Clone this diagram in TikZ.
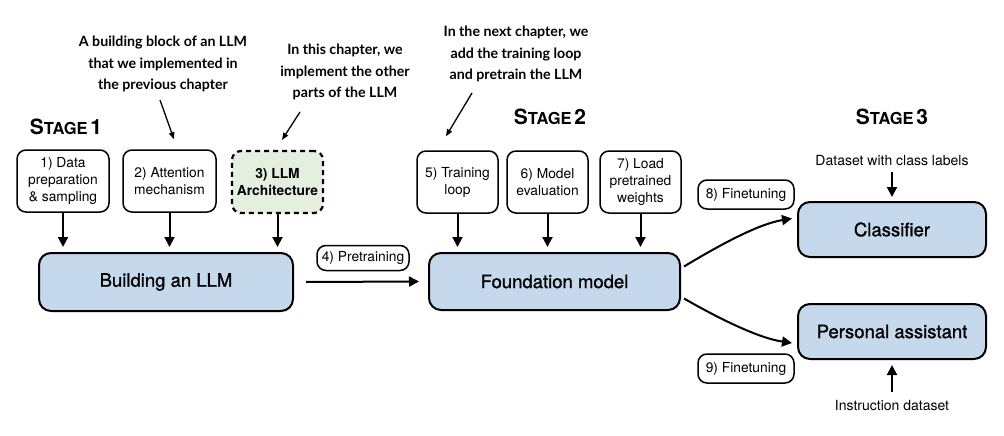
\documentclass[tikz,border=0pt]{standalone}
\usepackage{fontspec}
\setmainfont{TeX Gyre Heros}
\newfontfamily\medfont[FakeBold=1.2]{TeX Gyre Heros}
\newfontfamily\annfont{Lato}
\usetikzlibrary{arrows.meta,calc}
\definecolor{bluefill}{RGB}{198,217,236}
\definecolor{greenfill}{RGB}{228,239,223}
\tikzset{
  smallbox/.style={draw=black, line width=1.5pt, rounded corners=9pt, fill=white, align=center,
    font=\fontsize{13.8}{17}\selectfont, inner sep=0pt, minimum height=62pt},
  bigbox/.style={draw=black, line width=2pt, rounded corners=12pt, fill=bluefill,
    font=\medfont\fontsize{18.5}{22}\selectfont, inner sep=0pt},
  tagbox/.style={draw=black, line width=1.5pt, rounded corners=9pt, fill=white,
    font=\fontsize{13.8}{17}\selectfont, inner sep=0pt},
  arr/.style={line width=2pt, -{Triangle[length=10pt,width=10pt]}},
  thinarr/.style={line width=1.3pt, -{Triangle[length=7pt,width=5.5pt]}},
  note/.style={font=\annfont\bfseries\fontsize{14.2}{21.5}\selectfont, align=center},
  plain/.style={font=\fontsize{14}{16}\selectfont},
  stagetitle/.style={font=\bfseries}
}
\newcommand{\stagetxt}[1]{{\fontsize{21}{21}\selectfont S}{\fontsize{16.5}{16.5}\selectfont TAGE} {\fontsize{21}{21}\selectfont #1}}
\begin{document}
\begin{tikzpicture}[x=1pt,y=-1pt]
\useasboundingbox (0,0) rectangle (1004,436);
\fill[white] (0,0) rectangle (1004,436);

% stage titles
\node[stagetitle] (s1) at (66,127) {\stagetxt{1}};
\node[stagetitle] (s2) at (550,117) {\stagetxt{2}};
\node[stagetitle] (s3) at (892,117) {\stagetxt{3}};

% annotations
\node[note] (n1) at (163,64) {A building block of an LLM\\that we implemented in\\the previous chapter};
\node[note] (n2) at (345,72) {In this chapter, we\\implement the other\\parts of the LLM};
\node[note] (n3) at (516,54) {In the next chapter, we\\add the training loop\\and pretrain the LLM};

% stage 1 boxes
\node[smallbox, minimum width=92pt] (b1) at (63,181) {1) Data\\preparation\\\& sampling};
\node[smallbox, minimum width=93pt] (b2) at (169.5,181) {2) Attention\\mechanism};
\node[smallbox, minimum width=91pt, fill=greenfill, dash pattern=on 5pt off 4pt, line width=2.2pt,
      font=\bfseries\fontsize{13.8}{17}\selectfont] (b3) at (277.5,182) {3) LLM\\Architecture};
\node[bigbox, minimum width=254pt, minimum height=58pt] (build) at (166,282) {Building an LLM};

% stage 2 boxes
\node[smallbox, minimum width=81pt] (b5) at (457.5,182) {5) Training\\loop};
\node[smallbox, minimum width=81pt] (b6) at (547.5,182) {6) Model\\evaluation};
\node[smallbox, minimum width=81pt] (b7) at (640.5,182) {7) Load\\pretrained\\weights};
\node[bigbox, minimum width=251pt, minimum height=57pt] (found) at (554.5,281.5) {Foundation model};

\node[tagbox, minimum width=92pt, minimum height=25pt] (pre) at (363,258) {4) Pretraining};

% stage 3
\node[bigbox, minimum width=188pt, minimum height=55pt] (cls) at (892,229.5) {Classifier};
\node[bigbox, minimum width=188pt, minimum height=55pt] (pa) at (892,331.5) {Personal assistant};
\node[tagbox, minimum width=96pt, minimum height=29pt] (ft8) at (746,194.5) {8) Finetuning};
\node[tagbox, minimum width=96pt, minimum height=29pt] (ft9) at (746,368.5) {9) Finetuning};
\node[plain] (dsl) at (892,161) {Dataset with class labels};
\node[plain] (ids) at (892,405) {Instruction dataset};

% annotation arrows
\coordinate (a1) at (160,100);
\coordinate (a2) at (300,112);
\coordinate (a3) at (472,93);
\draw[thinarr] (a1) -- ($(b2.north)+(4.5,-10)$);
\draw[thinarr] (a2) -- ($(b3.north)+(4.5,-10)$);
\draw[thinarr] (a3) -- ($(b5.north)+(-11.5,-14)$);

% box arrows
\draw[arr] (b1.south) -- ($(b1.south |- build.north)+(0,-5)$);
\draw[arr] (b2.south) -- ($(b2.south |- build.north)+(0,-5)$);
\draw[arr] (b3.south) -- ($(b3.south |- build.north)+(0,-5)$);
\draw[arr] (b5.south) -- ($(b5.south |- found.north)+(0,-5)$);
\draw[arr] (b6.south) -- ($(b6.south |- found.north)+(0,-5)$);
\draw[arr] (b7.south) -- ($(b7.south |- found.north)+(0,-5)$);
\draw[arr] ($(build.east)+(12,0)$) -- ($(found.west)+(-9,0)$);

% finetuning curves
\draw[arr] ($(found.east)+(3,-15)$) .. controls (718,246) and (758,224) .. ($(cls.west)+(-5,-11)$);
\draw[arr] ($(found.east)+(3,17)$) .. controls (718,318) and (758,338) .. ($(pa.west)+(-5,11.5)$);

% dataset arrows
\draw[arr] ($(dsl.south)+(0,2)$) -- ($(cls.north)+(0,-4)$);
\draw[arr] ($(ids.north)+(0,-4)$) -- ($(pa.south)+(0,5)$);
\end{tikzpicture}
\end{document}
